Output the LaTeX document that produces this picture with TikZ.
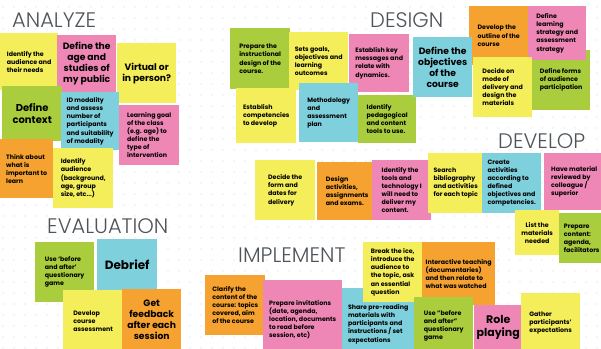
\documentclass[tikz,border=0pt]{standalone}
\usepackage{fontspec}
\setmainfont{Poppins}
\newfontfamily\thinfont{Poppins Light}
\usepackage{tikz}

\definecolor{yel}{HTML}{F4EE5A}
\definecolor{pnk}{HTML}{EF87B6}
\definecolor{grn}{HTML}{A9CD3C}
\definecolor{blu}{HTML}{7ED0DD}
\definecolor{org}{HTML}{F5A231}
\definecolor{dotc}{HTML}{D6D8DA}
\definecolor{ttl}{HTML}{4E5459}

\newcommand{\notefont}{\fontsize{6.3}{8.1}\selectfont\bfseries}
\newcommand{\bigfont}{\fontsize{9.2}{11}\selectfont\bfseries}

\tikzset{
  note/.style 2 args={anchor=north west, minimum width=#1pt, minimum height=#2pt,
    inner sep=1pt, align=left, font=\notefont, text=black},
  bignote/.style 2 args={note={#1}{#2}, align=center, font=\bigfont},
  title/.style={anchor=base west, inner sep=0pt, text=ttl,
    font=\thinfont\fontsize{21}{21}\selectfont},
  yelnote/.style={fill=yel},
  pnknote/.style={fill=pnk},
  grnnote/.style={fill=grn},
  blunote/.style={fill=blu},
  orgnote/.style={fill=org}
}

\begin{document}
\begin{tikzpicture}[x=1pt,y=-1pt]

    \useasboundingbox (0,0) rectangle (601,348);
    \clip (0,0) rectangle (601,348);
    \fill[white] (0,0) rectangle (601,348);

    % dotted board
    \foreach \i in {0,...,54}{
      \foreach \j in {0,...,31}{
        \fill[dotc] (\i*11+3,\j*11+7) circle (0.6pt);
      }
    }

    % analyze
    \node[title] (tAnalyze) at (12,27) {ANALYZE};
    \node[note={58}{57}, yelnote] (anId) at (0,33) {Identify the\\audience and\\their needs};
    \node[bignote={59}{57}, pnknote] (anAge) at (57,35) {Define the\\age and\\studies of\\my public};
    \node[bignote={59}{60}, yelnote] (anVirt) at (117,43) {Virtual or\\in person?};
    \node[bignote={60}{55}, grnnote, font=\fontsize{10}{12}\selectfont\bfseries] (anCtx) at (2,86) {Define\\context};
    \node[note={58}{58}, blunote] (anMod) at (61,92) {ID modality\\and assess\\number of\\participants\\and suitability\\of modality};
    \node[note={60}{60}, pnknote] (anGoal) at (119,105) {Learning goal\\of the class\\(e.g. age) to\\define the\\type of\\intervention};
    \node[note={53}{59}, orgnote] (anThink) at (0,139) {Think about\\what is\\important to\\learn};
    \node[note={60}{60}, yelnote] (anAud) at (53,148) {Identify\\audience\\(background,\\age, group\\size, etc...)};

    % evaluation
    \node[title] (tEval) at (47,233) {EVALUATION};
    \node[note={59}{60}, grnnote] (evUse) at (35,242) {Use `before\\and after'\\questionary\\game};
    \node[bignote={60}{52}, blunote, font=\fontsize{12}{14}\selectfont\bfseries] (evDeb) at (97,239) {Debrief};
    \node[note={60}{62}, yelnote] (evDev) at (63,290) {Develop\\course\\assessment};
    \node[bignote={59}{62}, orgnote] (evGet) at (122,289) {Get\\feedback\\after each\\session};

    % design
    \node[title] (tDesign) at (370,27) {DESIGN};
    \node[note={60}{61}, grnnote] (deInstr) at (230,28) {Prepare the\\instructional\\design of the\\course.};
    \node[note={59}{58}, yelnote] (deGoals) at (289,32) {Sets goals,\\objectives and\\learning\\outcomes};
    \node[note={60}{58}, pnknote] (deKey) at (349,34) {Establish key\\messages and\\relate with\\dynamics.};
    \node[note={60}{55}, yelnote] (deComp) at (236,88) {Establish\\competencies\\to develop};
    \node[note={59}{59}, blunote] (deMeth) at (299,83) {Methodology\\and\\assessment\\plan};
    \node[note={58}{48}, grnnote] (dePed) at (358,95) {Identify\\pedagogical\\and content\\tools to use.};
    \node[note={58}{60}, grnnote] (deForms) at (532,50) {Define forms\\of audience\\participation};
    \node[note={59}{59}, orgnote] (deOut) at (469,6) {Develop the\\outline of the\\course};
    \node[bignote={59}{60}, blunote] (deObj) at (413,37) {Define the\\objectives\\of the\\course};
    \node[note={58}{54}, pnknote] (deStrat) at (528,6) {Define\\learning\\strategy and\\assessment\\strategy};
    \node[note={59}{60}, yelnote] (deMode) at (473,57) {Decide on\\mode of\\delivery and\\design the\\materials};

    % develop
    \node[title] (tDevelop) at (498,148) {DEVELOP};
    \node[note={60}{60}, yelnote] (dvForm) at (255,160) {Decide the\\form and\\dates for\\delivery};
    \node[note={60}{58}, orgnote] (dvDesign) at (317,162) {Design\\activities,\\assignments\\and exams.};
    \node[note={59}{60}, pnknote] (dvTools) at (372,160) {Identify the\\tools and\\technology I\\will need to\\deliver my\\content.};
    \node[note={55}{60}, yelnote] (dvBib) at (428,153) {Search\\bibliography\\and activities\\for each topic};
    \node[note={59}{60}, blunote] (dvAct) at (482,153) {Create\\activities\\according to\\defined\\objectives and\\competencies.};
    \node[note={60}{57}, pnknote] (dvRev) at (544,153) {Have material\\reviewed by\\colleague /\\superior};
    \node[bignote={44}{45}, yelnote, font=\notefont] (dvList) at (515,210) {List the\\materials\\needed};
    \node[note={45}{50}, grnnote] (dvPrep) at (559,213) {Prepare\\content:\\agenda,\\facilitators};

    % implement
    \node[title] (tImpl) at (238,262) {IMPLEMENT};
    \node[note={60}{60}, orgnote] (imClar) at (205,275) {Clarify the\\content of the\\course: topics\\covered, aim\\of the course};
    \node[note={79}{79}, pnknote] (imInv) at (263,280) {Prepare invitations\\(date, agenda,\\location, documents\\to read before\\session, etc)};
    \node[note={72}{72}, blunote] (imShare) at (342,288) {Share pre-reading\\materials with\\participants and\\instructions / set\\expectations};
    \node[note={59}{60}, yelnote] (imIce) at (363,242) {Break the ice,\\introduce the\\audience to\\the topic, ask\\an essential\\question};
    \node[note={73}{63}, orgnote] (imTeach) at (422,242) {Interactive teaching\\(documentaries)\\and then relate to\\what was watched};
    \node[note={59}{58}, grnnote] (imUse) at (414,297) {Use "before\\and after"\\questionary\\game};
    \node[bignote={48}{44}, pnknote, font=\fontsize{11}{13}\selectfont\bfseries] (imRole) at (474,305) {Role\\playing};
    \node[note={59}{60}, yelnote] (imGather) at (521,293) {Gather\\participants'\\expectations};

\end{tikzpicture}
\end{document}
